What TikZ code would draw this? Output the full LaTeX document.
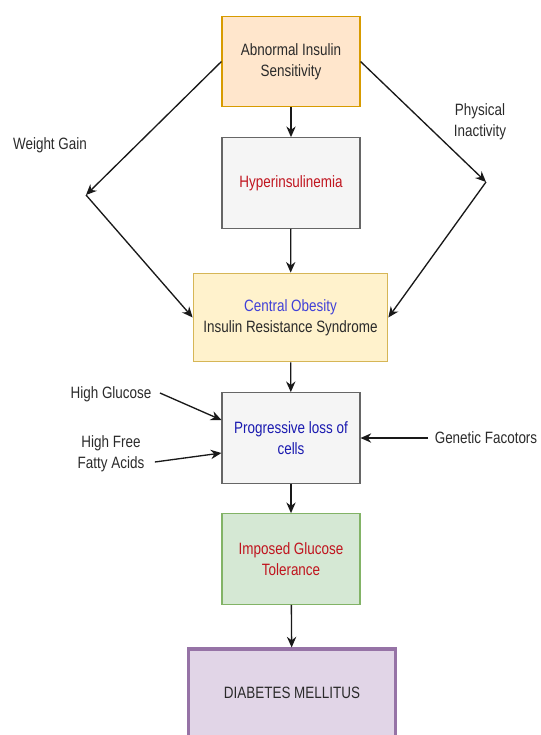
\documentclass[tikz,border=0pt]{standalone}
\usepackage{fontspec}
\setmainfont{Liberation Sans}[FakeStretch=0.82]
\usetikzlibrary{arrows.meta}

\definecolor{peachfill}{HTML}{FFE6CC}
\definecolor{peachline}{HTML}{D79B00}
\definecolor{grayfill}{HTML}{F5F5F5}
\definecolor{grayline}{HTML}{666666}
\definecolor{yellowfill}{HTML}{FFF2CC}
\definecolor{yellowline}{HTML}{D6B656}
\definecolor{greenfill}{HTML}{D5E8D4}
\definecolor{greenline}{HTML}{82B366}
\definecolor{purplefill}{HTML}{E1D5E7}
\definecolor{purpleline}{HTML}{9673A6}
\definecolor{txtdark}{HTML}{2A2A2A}
\definecolor{txtred}{HTML}{C0141E}
\definecolor{txtblue}{HTML}{4040D8}
\definecolor{txtnavy}{HTML}{1A1AB0}

\begin{document}
\begin{tikzpicture}[x=0.75pt, y=-0.75pt,
    every node/.style={font=\fontsize{12.3}{15.5}\selectfont, text=txtdark, align=center, inner sep=1pt},
    box/.style={rectangle, line width=0.8pt, minimum width=103.5pt, minimum height=68pt},
    label/.style={},
    arr/.style={draw=black!90, line width=1pt, -{Stealth[length=8pt, width=7pt]}}
]
\useasboundingbox (0,0) rectangle (540,735);

% -------- Cajas centrales --------
\node[box, fill=peachfill, draw=peachline] (abnormal) at (291,61.5) {Abnormal Insulin\\Sensitivity};
\node[box, fill=grayfill, draw=grayline, text=txtred] (hyper) at (291,183) {Hyperinsulinemia};
\node[box, fill=yellowfill, draw=yellowline, minimum width=146pt, minimum height=66.5pt] (obesity) at (290.5,317.5)
    {\textcolor{txtblue}{Central Obesity}\\Insulin Resistance Syndrome};
\node[box, fill=grayfill, draw=grayline, text=txtnavy] (loss) at (291,438) {Progressive loss of\\cells};
\node[box, fill=greenfill, draw=greenline, text=txtred] (tolerance) at (291,559) {Imposed Glucose\\Tolerance};
\node[box, fill=purplefill, draw=purpleline, line width=2.3pt, minimum width=155pt, minimum height=66pt] (diabetes) at (292,693) {DIABETES MELLITUS};

% -------- Etiquetas laterales --------
\node[label] (weightgain) at (50,145) {Weight Gain};
\node[label] (inactivity) at (480,122) {Physical\\Inactivity};
\node[label] (glucose) at (111,394) {High Glucose};
\node[label] (fatty) at (111,454) {High Free\\Fatty Acids};
\node[label] (genetic) at (486,438) {Genetic Facotors};

% puntos de quiebre
\coordinate (wgbend) at (86,195);
\coordinate (pibend) at (486,182);

% -------- Flechas --------
\draw[arr] (abnormal) -- (hyper);
\draw[arr] (hyper) -- (obesity);
\draw[arr] (obesity) -- (loss);
\draw[arr] (loss) -- (tolerance);
\draw[arr] (tolerance) -- (diabetes);

\draw[arr] (abnormal.west) -- (wgbend);
\draw[arr] (wgbend) -- (obesity.west);
\draw[arr] (abnormal.east) -- (pibend);
\draw[arr] (pibend) -- (obesity.east);

\draw[arr] (glucose.east) ++(7,-1) coordinate (gs) (gs) -- (loss.west |- 0,420);
\draw[arr] (fatty.east) ++(9,8) coordinate (fs) (fs) -- (loss.west |- 0,453);
\draw[arr] (genetic.west) ++(-5,0) coordinate (ge) (ge) -- (loss.east);
\end{tikzpicture}
\end{document}
